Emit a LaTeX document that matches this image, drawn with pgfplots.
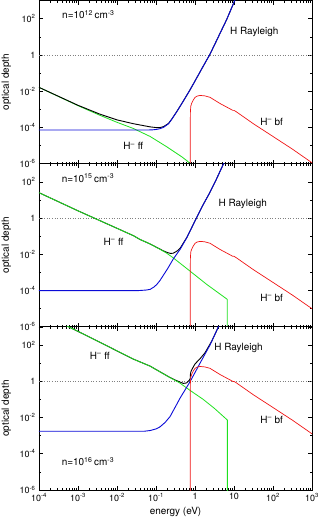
\documentclass[border=0pt]{standalone}
\usepackage{fontspec}
\setmainfont{TeX Gyre Heros}
\usepackage{pgfplots}
\pgfplotsset{compat=1.18}
\usepgfplotslibrary{groupplots}
\usetikzlibrary{calc}

\definecolor{cgreen}{RGB}{30,225,30}
\definecolor{cblue}{RGB}{10,10,215}
\definecolor{cred}{RGB}{240,20,20}

\newcommand{\su}[1]{\textsuperscript{#1}}

\begin{document}
\begin{tikzpicture}
\begin{groupplot}[
  group style={group size=1 by 3, vertical sep=0pt},
  xmode=log, ymode=log,
  xmin=1e-4, xmax=1e3, ymin=1e-6, ymax=1e3,
  scale only axis, width=273bp, height=163.17bp,
  axis line style={line width=0.7bp},
  ytick={1e-6,1e-4,1e-2,1,1e2},
  yticklabels={10\su{-6},10\su{-4},10\su{-2},1,10\su{2}},
  minor ytick={1e-5,1e-3,1e-1,10,1e3},
  xtick={1e-4,1e-3,1e-2,1e-1,1,10,100,1000},
  xticklabels={},
  minor xtick={2e-4,3e-4,4e-4,5e-4,6e-4,7e-4,8e-4,9e-4,
    2e-3,3e-3,4e-3,5e-3,6e-3,7e-3,8e-3,9e-3,
    2e-2,3e-2,4e-2,5e-2,6e-2,7e-2,8e-2,9e-2,
    0.2,0.3,0.4,0.5,0.6,0.7,0.8,0.9,
    2,3,4,5,6,7,8,9,20,30,40,50,60,70,80,90,
    200,300,400,500,600,700,800,900},
  major tick length=4bp, minor tick length=2bp,
  tick style={black, line width=0.5bp},
  tick label style={font=\fontsize{9}{10}\selectfont},
  ylabel={optical depth},
  ylabel style={font=\fontsize{10}{12}\selectfont, at={(axis description cs:-0.12,0.5)}, anchor=center},
  xlabel style={font=\fontsize{10}{12}\selectfont, at={(axis description cs:0.5,-0.135)}, anchor=center},
  every node/.style={font=\fontsize{10}{12}\selectfont},
  clip=true,
]
% ---------------- n = 1e12
\nextgroupplot
\addplot[gray, dotted, line width=0.6bp] coordinates {(1e-4,1) (1e3,1)};
\addplot[cgreen, line width=0.8bp] coordinates {(1e-4,1.62e-2) (1e-3,1.58e-3) (3.63e-3,4.68e-4) (1e-2,1.91e-4) (2.63e-2,8.71e-5) (7.08e-2,3.16e-5) (0.186,8.71e-6) (0.457,2.4e-6) (0.631,1.41e-6) (0.741,1.0e-6) (1.5,3.2e-7) (6.5,3.5e-8) (6.5,1e-9)};
\addplot[black, line width=0.9bp] coordinates {(1e-4,1.62e-2) (1e-3,1.66e-3) (3.63e-3,5.4e-4) (1e-2,2.6e-4) (2.63e-2,1.6e-4) (7.08e-2,1.07e-4) (0.105,9.7e-5) (0.126,9.8e-5) (0.155,1.1e-4) (0.209,1.65e-4) (0.263,3.2e-4) (0.339,7.3e-4) (0.5,2.8e-3) (0.741,1.15e-2) (1,3.63e-2) (1.58,0.214) (2.43,1.1) (3.98,10) (6.46,87.1) (10.7,1122) (12.6,2512)};
\addplot[cblue, line width=0.9bp] coordinates {(1e-4,7.2e-5) (0.063,7.2e-5) (0.085,7.4e-5) (0.105,7.8e-5) (0.126,8.51e-5) (0.155,1.0e-4) (0.209,1.58e-4) (0.263,3.16e-4) (0.339,7.24e-4) (0.5,2.8e-3) (0.741,1.15e-2) (1,3.63e-2) (1.58,0.214) (2.43,1.1) (3.98,10) (6.46,87.1) (10.7,1122) (12.6,2512)};
\addplot[cred, line width=0.7bp] coordinates {(0.754,1e-8) (0.756,1e-4) (0.762,7e-4) (0.78,1.5e-3) (0.82,2.1e-3) (0.9,3.2e-3) (1.0,4.5e-3) (1.12,5.3e-3) (1.35,5.8e-3) (1.78,5.5e-3) (2.43,4.57e-3) (4.37,2.09e-3) (7.94,1.05e-3) (9.33,8.7e-4) (10,8.7e-4) (11.5,7.24e-4) (31.6,1.58e-4) (100,3.16e-5) (316,6.3e-6) (1000,1.12e-6)};
\node[anchor=west, inner sep=0pt] at (axis cs:3.9e-4,166) {n=10\su{12}\,cm\su{-3}};
\node[anchor=west, inner sep=0pt] at (axis cs:7.9,18.2) {H Rayleigh};
\node[anchor=west, inner sep=0pt] at (axis cs:46.8,2e-4) {H\su{--} bf};
\node[anchor=west, inner sep=0pt] at (axis cs:1.45e-2,9.3e-6) {H\su{--} ff};
% ---------------- n = 1e15
\nextgroupplot
\addplot[gray, dotted, line width=0.6bp] coordinates {(1e-4,1) (1e3,1)};
\addplot[black, line width=0.9bp] coordinates {(1e-4,25.1) (1e-3,2.51) (3.63e-3,0.724) (2.63e-2,0.107) (3.89e-2,6.6e-2) (7.08e-2,3.72e-2) (0.126,1.95e-2) (0.155,1.55e-2) (0.2,1.23e-2) (0.24,1.12e-2) (0.275,1.15e-2) (0.316,1.35e-2) (0.355,1.58e-2) (0.417,2.19e-2) (0.617,8.5e-2) (1.0,0.694) (1.585,5.01) (2.43,26.9) (3.55,141) (5.37,977) (6.31,2000)};
\addplot[cgreen, line width=0.8bp] coordinates {(1e-4,25.1) (1e-3,2.51) (3.63e-3,0.724) (2.63e-2,0.107) (3.89e-2,6.6e-2) (7.08e-2,3.72e-2) (0.126,1.9e-2) (0.186,1.17e-2) (0.275,6.46e-3) (0.741,1.2e-3) (2.0,2.19e-4) (6.7,3.3e-5) (6.7,1e-8)};
\addplot[cblue, line width=0.9bp] coordinates {(1e-4,1e-4) (0.0355,1e-4) (0.0562,1.07e-4) (0.0708,1.17e-4) (0.0891,1.58e-4) (0.105,2.19e-4) (0.126,3.55e-4) (0.155,7.08e-4) (0.2,1.66e-3) (0.275,5.37e-3) (0.417,1.91e-2) (0.617,8.32e-2) (1.0,0.692) (1.585,5.01) (2.43,26.9) (3.55,141) (5.37,977) (6.31,2000)};
\addplot[cred, line width=0.7bp] coordinates {(0.754,1e-8) (0.756,8.9e-4) (0.762,6.2e-3) (0.78,1.34e-2) (0.82,1.87e-2) (0.9,2.85e-2) (1.0,4.0e-2) (1.12,4.72e-2) (1.35,5.17e-2) (1.78,4.9e-2) (2.43,4.07e-2) (4.37,1.86e-2) (7.94,9.36e-3) (9.33,7.75e-3) (10,7.75e-3) (11.5,6.45e-3) (31.6,1.41e-3) (100,2.82e-4) (316,5.6e-5) (1000,1.0e-5)};
\node[anchor=west, inner sep=0pt] at (axis cs:3.8e-4,158) {n=10\su{15}\,cm\su{-3}};
\node[anchor=west, inner sep=0pt] at (axis cs:4.0,6.3) {H Rayleigh};
\node[anchor=west, inner sep=0pt] at (axis cs:4.5e-3,4.8e-2) {H\su{--} ff};
\node[anchor=west, inner sep=0pt] at (axis cs:46.8,4e-5) {H\su{--} bf};
% ---------------- n = 1e16
\nextgroupplot[xlabel={energy (eV)},
  xticklabels={10\su{-4},10\su{-3},10\su{-2},10\su{-1},1,10,10\su{2},10\su{3}}]
\addplot[gray, dotted, line width=0.6bp] coordinates {(1e-4,1) (1e3,1)};
\addplot[black, line width=0.9bp] coordinates {(1e-4,6310) (1e-3,562) (3.63e-3,141) (2.63e-2,16.6) (7.08e-2,6.8) (0.229,1.6) (0.316,1.15) (0.398,0.93) (0.501,0.76) (0.603,0.8) (0.708,1.1) (0.754,1.4) (0.76,2.2) (0.78,3.2) (0.822,4.2) (0.9,6.0) (1.0,9.0) (1.35,17.5) (1.82,38) (2.69,165) (3.24,380) (3.98,1000) (5.01,3162)};
\addplot[cgreen, line width=0.8bp] coordinates {(1e-4,6310) (1e-3,562) (3.63e-3,141) (2.63e-2,16.6) (7.08e-2,6.76) (0.229,1.58) (0.398,0.83) (0.741,0.316) (1.62,0.1) (3.16,3.16e-2) (6.76,7.24e-3) (6.76,1e-8)};
\addplot[cblue, line width=0.9bp] coordinates {(1e-4,1.74e-3) (0.0501,1.74e-3) (0.0708,1.91e-3) (0.1,2.34e-3) (0.126,3.02e-3) (0.17,5.25e-3) (0.229,1.12e-2) (0.316,3.98e-2) (0.417,0.12) (0.759,1.0) (1.35,10) (2.43,100) (3.98,1000) (5.01,3162)};
\addplot[cred, line width=0.7bp] coordinates {(0.754,1e-8) (0.756,0.112) (0.762,0.785) (0.78,1.68) (0.82,2.36) (0.9,3.59) (1.0,5.05) (1.12,5.95) (1.35,6.51) (1.78,6.17) (2.43,5.13) (4.37,2.35) (7.94,1.18) (9.33,0.976) (10,0.976) (11.5,0.812) (31.6,0.177) (100,3.55e-2) (316,7.07e-3) (1000,1.26e-3)};
\node[anchor=west, inner sep=0pt] at (axis cs:3.1,67.6) {H Rayleigh};
\node[anchor=west, inner sep=0pt] at (axis cs:2.0e-3,26.3) {H\su{--} ff};
\node[anchor=west, inner sep=0pt] at (axis cs:46.8,7.4e-3) {H\su{--} bf};
\node[anchor=west, inner sep=0pt] at (axis cs:3.8e-4,3.6e-5) {n=10\su{16}\,cm\su{-3}};
\end{groupplot}
\pgfresetboundingbox
\path[use as bounding box] ([shift={(-39bp,0.5bp)}]group c1r1.north west) rectangle ([shift={(10bp,-31bp)}]group c1r3.south east);
\end{tikzpicture}
\end{document}
